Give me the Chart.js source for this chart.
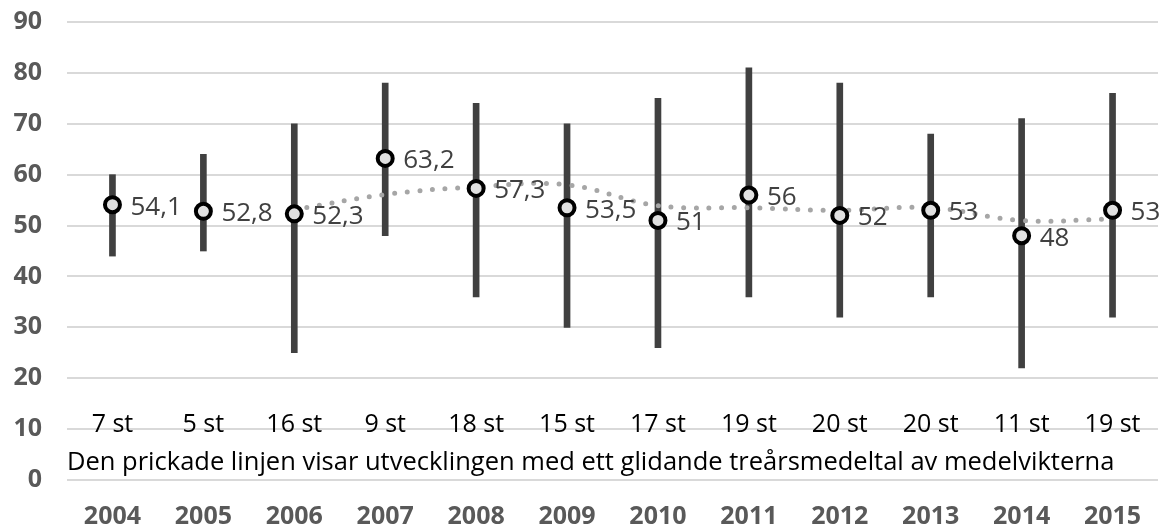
<!DOCTYPE html>
<html lang="sv">
<head>
<meta charset="UTF-8">
<title>Medelvikter 2004-2015</title>
<script src="https://cdn.jsdelivr.net/npm/chart.js"></script>
<style>
  body { margin: 0; background: #fff; }
  #wrap { width: 1171px; height: 530px; }
</style>
</head>
<body>
<div id="wrap"><canvas id="chart"></canvas></div>
<script>
// data
const years = ['2004','2005','2006','2007','2008','2009','2010','2011','2012','2013','2014','2015'];
const means = [54.1, 52.8, 52.3, 63.2, 57.3, 53.5, 51, 56, 52, 53, 48, 53];
const meanLabels = ['54,1','52,8','52,3','63,2','57,3','53,5','51','56','52','53','48','53'];
const lows  = [44, 45, 25, 48, 36, 30, 26, 36, 32, 36, 22, 32];
const highs = [60, 64, 70, 78, 74, 70, 75, 81, 78, 68, 71, 76];
const rolling = [null, null, 53.1, 56.1, 57.6, 58.0, 53.9, 53.5, 53.0, 53.5, 51.0, 51.3];
const counts = ['7 st','5 st','16 st','9 st','18 st','15 st','17 st','19 st','20 st','20 st','11 st','19 st'];
const note = 'Den prickade linjen visar utvecklingen med ett glidande treårsmedeltal av medelvikterna';
const yTicks = [0, 10, 20, 30, 40, 50, 60, 70, 80, 90];

const ranges = lows.map((lo, i) => [lo, highs[i]]);
const textFont = '"Open Sans", "Noto Sans", sans-serif';

// labels: means next to markers, counts just above 10, note line under them
const labelPlugin = {
    id: 'labels',
    afterDatasetsDraw(chart) {
        const ctx = chart.ctx;
        const x = chart.scales.x, y = chart.scales.y;
        ctx.save();
        ctx.textBaseline = 'alphabetic';
        ctx.font = '26px ' + textFont;
        ctx.fillStyle = '#404040';
        ctx.textAlign = 'left';
        means.forEach((v, i) => {
            ctx.fillText(meanLabels[i], x.getPixelForValue(i) + 18, y.getPixelForValue(v) + 10);
        });
        ctx.font = '25px ' + textFont;
        ctx.fillStyle = '#000';
        ctx.textAlign = 'center';
        counts.forEach((c, i) => {
            ctx.fillText(c, x.getPixelForValue(i), y.getPixelForValue(9.4));
        });
        ctx.textAlign = 'left';
        ctx.font = '25.5px ' + textFont;
        ctx.fillText(note, chart.chartArea.left, y.getPixelForValue(2));
        ctx.restore();
    }
};

new Chart(document.getElementById('chart'), {
    type: 'bar',
    data: {
        labels: years,
        datasets: [
            {
                label: 'Min-max',
                data: ranges,
                backgroundColor: '#404040',
                barThickness: 6,
                order: 3
            },
            {
                type: 'line',
                label: 'Glidande treårsmedeltal',
                data: rolling,
                borderColor: '#a6a6a6',
                borderWidth: 5,
                borderDash: [0, 12.7],
                borderCapStyle: 'round',
                tension: 0.4,
                pointRadius: 0,
                fill: false,
                order: 2
            },
            {
                type: 'line',
                label: 'Medelvikt',
                data: means,
                showLine: false,
                pointStyle: 'circle',
                pointRadius: 7.5,
                pointBorderWidth: 4,
                pointBorderColor: '#000',
                pointBackgroundColor: '#e0e0e0',
                order: 1
            }
        ]
    },
    options: {
        responsive: true,
        maintainAspectRatio: false,
        animation: false,
        layout: { padding: { top: 22, right: 13, left: 10, bottom: 4 } },
        plugins: {
            legend: { display: false },
            tooltip: { enabled: false }
        },
        scales: {
            x: {
                offset: true,
                afterFit: axis => { axis.height = 46; },
                grid: { display: false, drawTicks: false },
                border: { display: false },
                ticks: {
                    color: '#595959',
                    font: { family: textFont, size: 25, weight: 'bold' },
                    padding: 22
                }
            },
            y: {
                min: 0,
                max: 90,
                afterBuildTicks: axis => { axis.ticks = yTicks.map(v => ({ value: v })); },
                afterFit: axis => {
                    // fixed label column, no extra top/bottom room for tick padding
                    axis.width = 57;
                    axis.paddingTop = 0;
                    axis.paddingBottom = 0;
                },
                grid: { color: '#d9d9d9', lineWidth: 2, drawTicks: false },
                border: { display: false },
                ticks: {
                    color: '#595959',
                    font: { family: textFont, size: 25, weight: 'bold' },
                    padding: 25
                }
            }
        }
    },
    plugins: [labelPlugin]
});
</script>
</body>
</html>
